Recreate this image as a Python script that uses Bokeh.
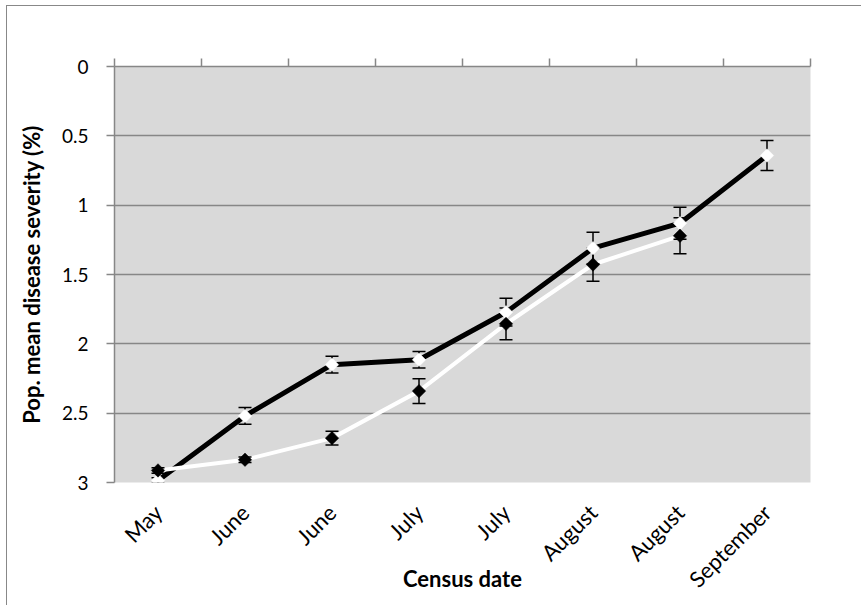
import math
from bokeh.plotting import figure
from bokeh.models import Range1d, FixedTicker, LinearAxis, ColumnDataSource
from bokeh.embed import file_html
from bokeh.resources import INLINE

categories = ["May", "June", "June", "July", "July", "August", "August", "September"]
# series 1: black line, white markers
s1_values = [2.985, 2.52, 2.15, 2.115, 1.772, 1.31, 1.13, 0.642]
s1_err = [0.02, 0.06, 0.06, 0.06, 0.10, 0.115, 0.115, 0.108]
# series 2: white line, black markers (no September value)
s2_values = [2.913, 2.836, 2.68, 2.341, 1.856, 1.428, 1.221]
s2_err = [0.02, 0.02, 0.05, 0.09, 0.115, 0.12, 0.13]
y_ticks = [0, 0.5, 1, 1.5, 2, 2.5, 3]
y_tick_labels = ["0", "0.5", "1", "1.5", "2", "2.5", "3"]

FONT = "Lato"
GRID = "#878787"

x1 = [i + 0.5 for i in range(len(s1_values))]
x2 = [i + 0.5 for i in range(len(s2_values))]

p = figure(width=855, height=600, output_backend="svg", toolbar_location=None,
           x_range=Range1d(0, len(categories)), y_range=Range1d(3, 0),
           x_axis_location=None, y_axis_location=None,
           min_border_left=107, min_border_top=60, min_border_right=52, min_border_bottom=124)
p.background_fill_color = "#d9d9d9"
p.border_fill_color = "white"
p.outline_line_color = None
p.styles = {"margin-left": "6px", "margin-top": "5px",
            "border-left": "1px solid #888888", "border-top": "1px solid #888888"}

# y axis
yaxis = LinearAxis(ticker=FixedTicker(ticks=y_ticks))
yaxis.major_label_overrides = {t: l for t, l in zip(y_ticks, y_tick_labels)}
yaxis.axis_line_color = GRID
yaxis.axis_line_width = 1.5
yaxis.major_tick_line_color = GRID
yaxis.major_tick_line_width = 1.5
yaxis.major_tick_out = 8
yaxis.major_tick_in = 0
yaxis.minor_tick_line_color = None
yaxis.major_label_text_font = FONT
yaxis.major_label_text_font_size = "19px"
yaxis.major_label_text_color = "black"
yaxis.major_label_standoff = 18
yaxis.axis_label = "Pop. mean disease severity (%)"
yaxis.axis_label_text_font = FONT
yaxis.axis_label_text_font_size = "22px"
yaxis.axis_label_text_font_style = "bold"
yaxis.axis_label_text_color = "black"
yaxis.axis_label_standoff = 14
p.add_layout(yaxis, "left")

# top category axis: tick marks only (as minor ticks, no labels)
taxis = LinearAxis(ticker=FixedTicker(ticks=[], minor_ticks=list(range(len(categories) + 1))))
taxis.axis_line_color = GRID
taxis.axis_line_width = 1.5
taxis.major_tick_line_color = None
taxis.minor_tick_line_color = GRID
taxis.minor_tick_line_width = 1.5
taxis.minor_tick_out = 8
taxis.minor_tick_in = 0
p.add_layout(taxis, "above")

# bottom category labels + title
baxis = LinearAxis(ticker=FixedTicker(ticks=x1), bounds=(-0.2, 7.6))
baxis.major_label_overrides = {x: c for x, c in zip(x1, categories)}
baxis.major_label_orientation = math.pi / 4
baxis.axis_line_color = None
baxis.major_tick_line_color = None
baxis.minor_tick_line_color = None
baxis.major_label_text_font = FONT
baxis.major_label_text_font_size = "22px"
baxis.major_label_text_color = "black"
baxis.major_label_standoff = 20
baxis.axis_label = "Census date"
baxis.axis_label_text_font = FONT
baxis.axis_label_text_font_size = "22px"
baxis.axis_label_text_font_style = "bold"
baxis.axis_label_text_color = "black"
baxis.axis_label_standoff = -40
p.add_layout(baxis, "below")

p.xgrid.grid_line_color = None
p.ygrid.ticker = FixedTicker(ticks=y_ticks)
p.ygrid.grid_line_color = GRID
p.ygrid.grid_line_width = 1.5

src1 = ColumnDataSource(dict(x=x1, y=s1_values,
                             lo=[v - e for v, e in zip(s1_values, s1_err)],
                             hi=[v + e for v, e in zip(s1_values, s1_err)]))
src2 = ColumnDataSource(dict(x=x2, y=s2_values,
                             lo=[v - e for v, e in zip(s2_values, s2_err)],
                             hi=[v + e for v, e in zip(s2_values, s2_err)]))

p.line("x", "y", source=src1, line_color="black", line_width=5)
p.line("x", "y", source=src2, line_color="white", line_width=4)

for src in (src1, src2):
    p.segment(x0="x", y0="lo", x1="x", y1="hi", source=src, line_color="black", line_width=1.5)
    p.scatter("x", "lo", source=src, marker="dash", size=13, line_color="black", line_width=1.5)
    p.scatter("x", "hi", source=src, marker="dash", size=13, line_color="black", line_width=1.5)

p.scatter("x", "y", source=src1, marker="square", size=9.5, angle=math.pi / 4,
          fill_color="white", line_color="white", line_width=0.5)
p.scatter("x", "y", source=src2, marker="square", size=9.5, angle=math.pi / 4,
          fill_color="black", line_color="black", line_width=0.5)

open("out.html", "w").write(file_html(p, INLINE))
